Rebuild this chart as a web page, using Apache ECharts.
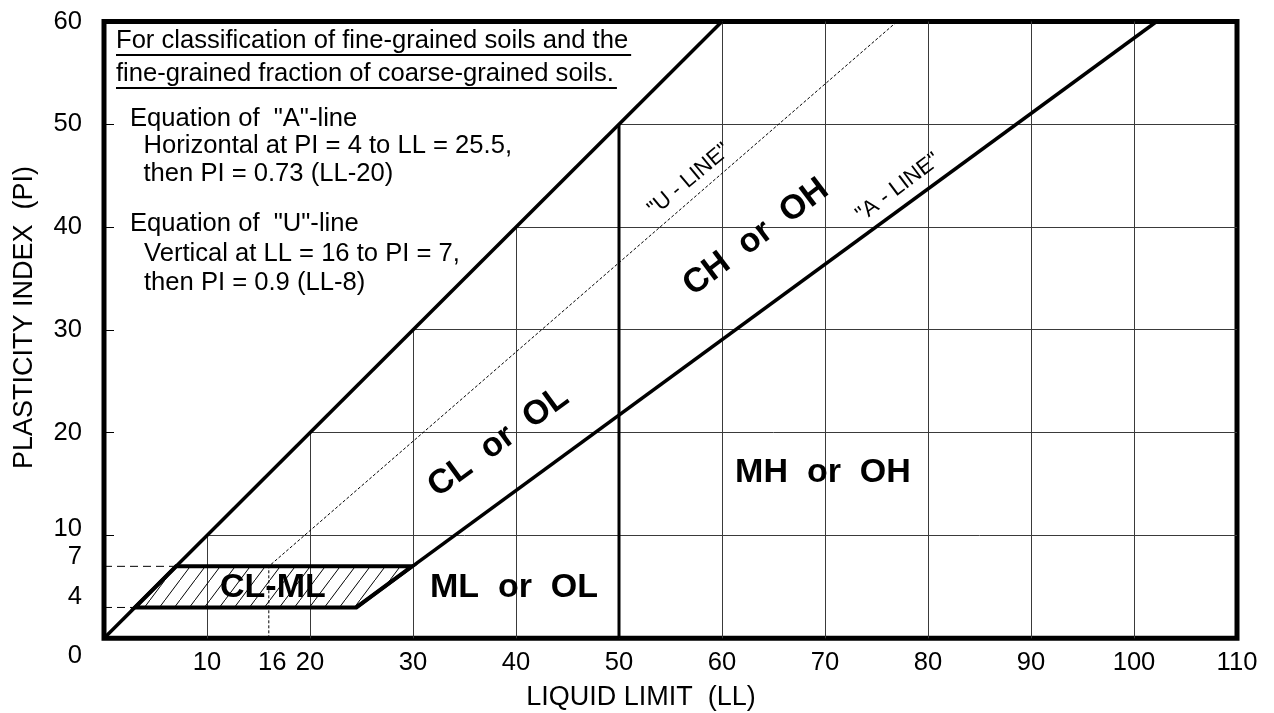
<!DOCTYPE html>
<html>
<head>
<meta charset="utf-8">
<script src="https://cdn.jsdelivr.net/npm/echarts@6/dist/echarts.min.js"></script>
<style>
  html, body { margin: 0; padding: 0; background: #fff; }
  #chart { width: 1274px; height: 713px; }
</style>
</head>
<body>
<div id="chart"></div>
<script>
// ---------- data ----------
const xTickLabels = [10, 16, 20, 30, 40, 50, 60, 70, 80, 90, 100, 110];
const yTickLabels = [0, 4, 7, 10, 20, 30, 40, 50, 60];
const yTickMarks = [10, 20, 30, 40, 50];
const gridLL = [10, 20, 30, 40, 50, 60, 70, 80, 90, 100];
const gridPI = [10, 20, 30, 40, 50];

const upperLine = [[0, 0], [60, 60]];
const aLine = [[24.5, 3], [102.2, 60]];
const uLine = [[16, 0], [16, 7], [77, 60]];
const ll50Line = [[50, 0], [50, 50]];
const clmlZone = [[3, 3], [24.5, 3], [29.9, 7], [7, 7]];
const guidePI7 = [[0, 7], [7, 7]];
const guidePI4 = [[0, 3], [3, 3]];

const zoneNames = ['CL-ML', 'ML  or  OL', 'MH  or  OH', 'CL  or  OL', 'CH  or  OH'];
const zoneAnchors = [[16.4, 4.9], [39.8, 4.9], [69.8, 16.1], [38.3, 19.1], [63.3, 39.0]];
const lineNames = ['"U - LINE"', '"A - LINE"'];
const lineAnchors = [[56.8, 44.6], [77.1, 43.85]];

const headerLines = ['For classification of fine-grained soils and the',
                     'fine-grained fraction of coarse-grained soils.'];
const aEquationLines = ['Equation of  "A"-line', 'Horizontal at PI = 4 to LL = 25.5,', 'then PI = 0.73 (LL-20)'];
const uEquationLines = ['Equation of  "U"-line', 'Vertical at LL = 16 to PI = 7,', 'then PI = 0.9 (LL-8)'];
const xAxisTitle = 'LIQUID LIMIT  (LL)';
const yAxisTitle = 'PLASTICITY INDEX  (PI)';

// ---------- styles ----------
const FONT = '"Liberation Sans", Arial, Helvetica, sans-serif';
const FS = 25.6;
const rotations = { 'CL  or  OL': 36, 'CH  or  OH': 37, '"U - LINE"': 40, '"A - LINE"': 37 };

// gridline segments: clipped to the region below the PI = LL line
const gridSegments = [];
gridLL.forEach(k => gridSegments.push([k, 0, k, Math.min(k, 60)]));
gridPI.forEach(k => gridSegments.push([k, k, 110, k]));

// hatch pattern
const tile = document.createElement('canvas');
tile.width = 15; tile.height = 20;
(function () {
  const c = tile.getContext('2d');
  c.strokeStyle = '#000';
  c.lineWidth = 1;
  c.beginPath();
  c.moveTo(-1.5, 22);
  c.lineTo(16.5, -2);
  c.stroke();
})();

function measure(text, size, weight) {
  const c = document.createElement('canvas').getContext('2d');
  c.font = (weight || 'normal') + ' ' + size + 'px ' + FONT;
  return c.measureText(text).width;
}

const base = { fontSize: FS, fontFamily: FONT, color: '#000' };

const graphics = [];
const headerY = [41, 74];
headerLines.forEach((t, i) => {
  graphics.push({ type: 'text', x: 116, y: headerY[i], silent: true,
    style: { text: t, fontSize: FS, fontFamily: FONT, fill: '#000', align: 'left', verticalAlign: 'middle' } });
  const w = measure(t, FS);
  graphics.push({ type: 'line', silent: true,
    shape: { x1: 116, y1: headerY[i] + 14, x2: 116 + w + 3, y2: headerY[i] + 14 },
    style: { stroke: '#000', lineWidth: 2 } });
});
const aY = [119, 146, 174];
aEquationLines.forEach((t, i) => {
  graphics.push({ type: 'text', x: i === 0 ? 130 : 143.5, y: aY[i], silent: true,
    style: { text: t, fontSize: FS, fontFamily: FONT, fill: '#000', align: 'left', verticalAlign: 'middle' } });
});
const uY = [224, 254, 283];
uEquationLines.forEach((t, i) => {
  graphics.push({ type: 'text', x: i === 0 ? 130 : 144, y: uY[i], silent: true,
    style: { text: t, fontSize: FS, fontFamily: FONT, fill: '#000', align: 'left', verticalAlign: 'middle' } });
});
graphics.push({ type: 'text', x: 641, y: 698, silent: true,
  style: { text: xAxisTitle, fontSize: 27, fontFamily: FONT, fill: '#000', align: 'center', verticalAlign: 'middle' } });
graphics.push({ type: 'text', x: 25, y: 317.5, rotation: Math.PI / 2, silent: true,
  style: { text: yAxisTitle, fontSize: 27, fontFamily: FONT, fill: '#000', align: 'center', verticalAlign: 'middle' } });

function crisp(v) { return Math.round(v - 0.5) + 0.5; }

const lineSeries = (data, width, type) => ({
  type: 'line', data: data, symbol: 'none', silent: true, animation: false,
  lineStyle: { color: '#000', width: width, type: type || 'solid', cap: 'butt', join: 'miter', opacity: 1 }, z: 5
});

const labelSeries = (names, anchors, size, weight) => ({
  type: 'scatter', silent: true, z: 10, symbolSize: 1,
  itemStyle: { color: 'rgba(0,0,0,0)', opacity: 1 },
  emphasis: { disabled: true },
  data: names.map((n, i) => ({ name: n, value: anchors[i], label: { rotate: rotations[n] || 0 } })),
  label: { show: true, position: 'inside', formatter: p => p.name, fontSize: size, fontWeight: weight,
           fontFamily: FONT, color: '#000', opacity: 1, textBorderWidth: 0, align: 'center', verticalAlign: 'middle' }
});

const chart = echarts.init(document.getElementById('chart'), null, { renderer: 'canvas' });
chart.setOption({
  animation: false,
  backgroundColor: '#fff',
  grid: { left: 104, right: 37, top: 21.5, bottom: 74.7, show: true, borderColor: '#000', borderWidth: 5,
          containLabel: false, outerBoundsMode: 'none' },
  xAxis: {
    type: 'value', min: 0, max: 110,
    axisLine: { show: false }, axisTick: { show: false }, splitLine: { show: false },
    axisLabel: {
      customValues: xTickLabels, margin: 12, showMinLabel: true, showMaxLabel: true,
      formatter: v => v === 16 ? '{s|16}' : '{n|' + v + '}',
      rich: { n: Object.assign({}, base), s: Object.assign({}, base, { padding: [0, 0, 0, 7] }) }
    }
  },
  yAxis: {
    type: 'value', min: 0, max: 60,
    axisLine: { show: false }, splitLine: { show: false },
    axisTick: { show: true, inside: true, length: 10, customValues: yTickMarks, lineStyle: { color: '#000', width: 1 } },
    axisLabel: {
      customValues: yTickLabels, margin: 22, showMinLabel: true, showMaxLabel: true,
      formatter: v => {
        if (v === 0) return '{dn|0}';
        if (v === 10) return '{u1|10}';
        if (v === 7) return '{u2|7}';
        return '{n|' + v + '}';
      },
      rich: {
        n: Object.assign({}, base),
        dn: Object.assign({}, base, { padding: [36, 0, 0, 0] }),
        u1: Object.assign({}, base, { padding: [0, 0, 13, 0] }),
        u2: Object.assign({}, base, { padding: [0, 0, 19, 0] })
      }
    }
  },
  graphic: graphics,
  series: [
    {
      type: 'custom', name: 'grid lines', silent: true, z: 1, data: gridSegments,
      renderItem: (params, api) => {
        const p1 = api.coord([api.value(0), api.value(1)]);
        const p2 = api.coord([api.value(2), api.value(3)]);
        const vertical = api.value(0) === api.value(2);
        const s = vertical
          ? { x1: crisp(p1[0]), y1: p1[1], x2: crisp(p2[0]), y2: p2[1] }
          : { x1: p1[0], y1: crisp(p1[1]), x2: p2[0], y2: crisp(p2[1]) };
        return { type: 'line', shape: s, style: { stroke: '#3a3a3a', lineWidth: 1 } };
      }
    },
    {
      type: 'custom', name: 'CL-ML zone', silent: true, z: 3, data: [0],
      renderItem: (params, api) => ({
        type: 'polygon',
        shape: { points: clmlZone.map(p => api.coord(p)) },
        style: { fill: { image: tile, repeat: 'repeat' }, stroke: '#000', lineWidth: 4, lineJoin: 'miter' }
      })
    },
    lineSeries(guidePI7, 1, [8, 5]),
    lineSeries(guidePI4, 1, [8, 5]),
    lineSeries(uLine, 1, [3, 2]),
    lineSeries(upperLine, 3.5),
    lineSeries(aLine, 3.5),
    lineSeries(ll50Line, 3),
    labelSeries(zoneNames, zoneAnchors, 34, 'bold'),
    labelSeries(lineNames, lineAnchors, 22, 'normal')
  ]
});
</script>
</body>
</html>
